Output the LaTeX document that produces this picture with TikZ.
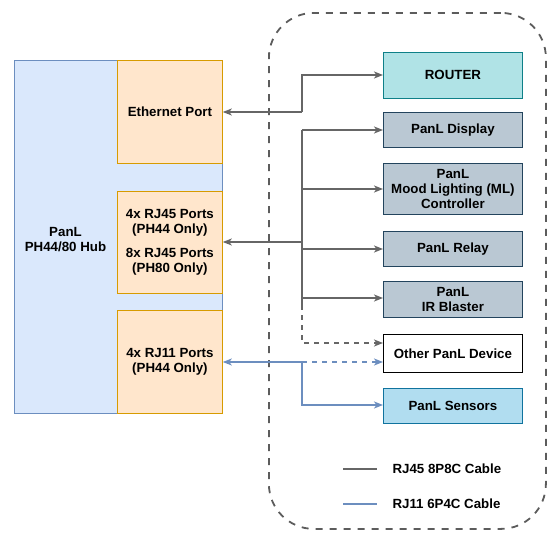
\documentclass[tikz,border=0pt]{standalone}
\usepackage{fontspec}
\setmainfont{Liberation Sans}
\usetikzlibrary{arrows.meta}
\definecolor{hubfill}{HTML}{DAE8FC}
\definecolor{hubdraw}{HTML}{6C8EBF}
\definecolor{portfill}{HTML}{FFE6CC}
\definecolor{portdraw}{HTML}{D79B00}
\definecolor{routerfill}{HTML}{B0E3E6}
\definecolor{routerdraw}{HTML}{0E8088}
\definecolor{devfill}{HTML}{BAC8D3}
\definecolor{devdraw}{HTML}{23445D}
\definecolor{sensfill}{HTML}{B1DDF0}
\definecolor{sensdraw}{HTML}{10739E}
\definecolor{cablegray}{HTML}{666666}
\definecolor{cableblue}{HTML}{6C8EBF}
\tikzset{
  lbl/.style={font=\fontsize{13.3}{15}\selectfont\bfseries, align=center, text=black},
  box/.style={lbl, draw, line width=0.8pt, inner sep=0pt},
  devbox/.style={box, fill=devfill, draw=devdraw},
  tip/.style={-{Stealth[length=9pt,width=7pt,inset=2.5pt]}},
  graycable/.style={draw=cablegray, line width=1.7pt},
  bluecable/.style={draw=cableblue, line width=1.7pt},
}
\begin{document}
\begin{tikzpicture}[x=1pt,y=-1pt]
\useasboundingbox (0,0) rectangle (552,533);
% hub
\node[box, fill=hubfill, draw=hubdraw, minimum width=208pt, minimum height=353pt, anchor=north west] (hub) at (14,60) {};
\node[lbl] (hubtxt) at (65.5,240) {PanL\\PH44/80 Hub};
\node[box, fill=portfill, draw=portdraw, minimum width=105pt, minimum height=103pt, anchor=north west] (eth) at (117,60) {Ethernet Port};
\node[box, fill=portfill, draw=portdraw, minimum width=105pt, minimum height=102pt, anchor=north west] (rj45) at (117,191) {4x RJ45 Ports\\(PH44 Only)\\[9pt]8x RJ45 Ports\\(PH80 Only)};
\node[box, fill=portfill, draw=portdraw, minimum width=105pt, minimum height=103pt, anchor=north west] (rj11) at (117,310) {4x RJ11 Ports\\(PH44 Only)};
% dashed enclosure
\node[draw=cablegray!90!black, line width=1.8pt, dash pattern=on 7pt off 7pt, rounded corners=45pt, minimum width=277pt, minimum height=516pt, anchor=north west] (zone) at (268,12) {};
% devices
\node[box, fill=routerfill, draw=routerdraw, minimum width=139pt, minimum height=46pt, anchor=north west] (router) at (383,52) {ROUTER};
\node[devbox, minimum width=139pt, minimum height=35pt, anchor=north west] (disp) at (383,112) {PanL Display};
\node[devbox, minimum width=139pt, minimum height=51pt, anchor=north west] (ml) at (383,163) {PanL\\Mood Lighting (ML)\\Controller};
\node[devbox, minimum width=139pt, minimum height=35pt, anchor=north west] (relay) at (383,231) {PanL Relay};
\node[devbox, minimum width=139pt, minimum height=36pt, anchor=north west] (ir) at (383,281) {PanL\\IR Blaster};
\node[box, fill=white, draw=black, minimum width=139pt, minimum height=38pt, anchor=north west] (other) at (383,334) {Other PanL Device};
\node[box, fill=sensfill, draw=sensdraw, minimum width=139pt, minimum height=35pt, anchor=north west] (sens) at (383,388) {PanL Sensors};
% junction coordinates
\coordinate (jeth) at (302,112);
\coordinate (jrt) at (302,75);
\coordinate (jtop) at (302,130);
\coordinate (jbus) at (302,242);
\coordinate (jend) at (302,305);
\coordinate (jo) at (302,343);
\coordinate (jb) at (302,362);
\coordinate (jbs) at (302,405);
% ethernet
\draw[graycable, tip] (jeth) -- (eth.east |- jeth);
\draw[graycable, tip] (jeth) -- (jrt) -- (router.west |- jrt);
% RJ45 bus
\draw[graycable, tip] (jbus) -- (rj45.east |- jbus);
\draw[graycable] (jtop) -- (jend);
\draw[graycable, tip] (jtop) -- (disp.west |- jtop);
\draw[graycable, tip] (302,189) -- (ml.west |- 0,189);
\draw[graycable, tip] (302,249) -- (relay.west |- 0,249);
\draw[graycable, tip] (302,298) -- (ir.west |- 0,298);
\draw[graycable, dash pattern=on 5pt off 5pt, tip] (jend) -- (jo) -- (other.west |- jo);
% RJ11
\draw[bluecable, tip] (jb) -- (rj11.east |- jb);
\draw[bluecable, dash pattern=on 5pt off 5pt, tip] (jb) -- (other.west |- jb);
\draw[bluecable, tip] (jb) -- (jbs) -- (sens.west |- jbs);
% legend
\coordinate (l1a) at (343,469);
\coordinate (l1b) at (377,469);
\coordinate (l2a) at (343,504);
\coordinate (l2b) at (377,504);
\draw[graycable] (l1a) -- (l1b);
\draw[bluecable] (l2a) -- (l2b);
\node[lbl, anchor=west] (leg1) at (389,469) {RJ45 8P8C Cable};
\node[lbl, anchor=west] (leg2) at (389,504) {RJ11 6P4C Cable};
\end{tikzpicture}
\end{document}
